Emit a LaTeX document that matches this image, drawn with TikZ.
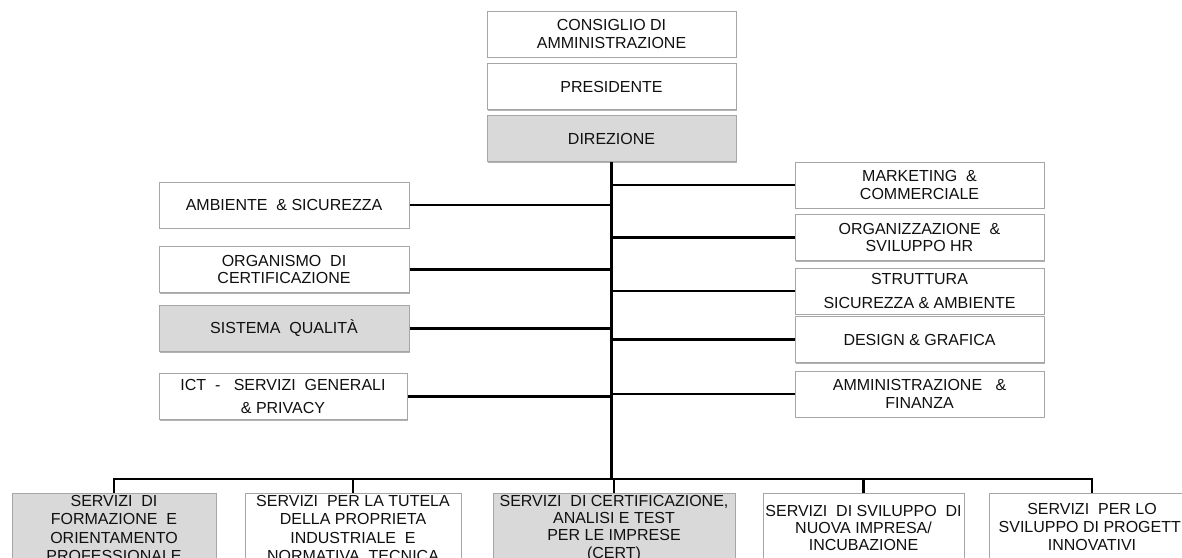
\documentclass[tikz,border=0pt]{standalone}
\usepackage{fontspec}
\setmainfont{Liberation Sans}
\usetikzlibrary{shadows}
\definecolor{boxgray}{HTML}{D9D9D9}
\definecolor{boxline}{HTML}{A6A6A6}
\definecolor{txt}{HTML}{101010}
\begin{document}
\begin{tikzpicture}[x=1pt,y=-1pt,
  frame/.style={draw=boxline, line width=1pt, fill=white, inner sep=0pt, text=txt,
    font=\fontsize{16}{17.7}\selectfont,
    drop shadow={shadow xshift=1.3pt, shadow yshift=-1.3pt, fill=black, opacity=0.3}},
  box/.style={frame, align=center},
  topbox/.style={box, minimum width=249pt, minimum height=46pt},
  sidebox/.style={box, minimum width=250pt, minimum height=46pt},
  botbox/.style={frame, anchor=north, text depth=80pt},
  grey/.style={fill=boxgray},
  link/.style={line width=2.2pt, draw=black},
  trunk/.style={line width=3.6pt, draw=black},
  bar/.style={line width=2.6pt, draw=black}]
\useasboundingbox (0,0) rectangle (1182,557);
\clip (0,0) rectangle (1182,557);
\fill[white] (0,0) rectangle (1182,557);

% top column
\node[topbox] (cda) at (611.5,34) {CONSIGLIO DI\\AMMINISTRAZIONE};
\node[topbox] (pres) at (611.5,86.5) {PRESIDENTE};
\node[topbox, grey] (dir) at (611.5,138.5) {DIREZIONE};

% left boxes
\node[sidebox] (amb) at (284,205) {AMBIENTE~ \& SICUREZZA};
\node[sidebox] (org) at (284,269.5) {ORGANISMO~ DI\\CERTIFICAZIONE};
\node[sidebox, grey] (sq) at (284,328.5) {SISTEMA~ QUALITÀ};
\node[box, minimum width=248pt, minimum height=46pt] (ict) at (283,396.5) {ICT~ -~~ SERVIZI~ GENERALI\\[6pt]\& PRIVACY};

% right boxes
\node[topbox] (mkt) at (919.5,185) {MARKETING~ \&\\COMMERCIALE};
\node[topbox] (orgz) at (919.5,237.5) {ORGANIZZAZIONE~ \&\\SVILUPPO HR};
\node[topbox] (str) at (919.5,291) {STRUTTURA\\[6pt]SICUREZZA \& AMBIENTE};
\node[topbox] (des) at (919.5,339.5) {DESIGN \& GRAFICA};
\node[topbox] (amm) at (919.5,394) {AMMINISTRAZIONE~~ \&\\FINANZA};

% bottom boxes
\node[botbox, grey, minimum width=204pt, text height=13pt,
  font=\fontsize{16}{18.5}\selectfont] (b1) at (114,492.5)
  {\begin{tabular}[t]{@{}c@{}}SERVIZI~ DI\\FORMAZIONE~ E\\ORIENTAMENTO\\PROFESSIONALE\end{tabular}};
\node[botbox, minimum width=216pt, text height=13pt,
  font=\fontsize{16}{18.5}\selectfont] (b2) at (353,492.5)
  {\begin{tabular}[t]{@{}c@{}}SERVIZI~ PER LA TUTELA\\DELLA PROPRIETA\\INDUSTRIALE~ E\\NORMATIVA~ TECNICA\end{tabular}};
\node[botbox, grey, minimum width=242pt, text height=13pt,
  font=\fontsize{16}{17.4}\selectfont] (b3) at (614,492.5)
  {\begin{tabular}[t]{@{}c@{}}SERVIZI~ DI CERTIFICAZIONE,\\ANALISI E TEST\\PER LE IMPRESE\\(CERT)\end{tabular}};
\node[botbox, minimum width=201pt, text height=23pt,
  font=\fontsize{16}{17.3}\selectfont] (b4) at (863.5,492.5)
  {\begin{tabular}[t]{@{}c@{}}SERVIZI~ DI SVILUPPO~ DI\\NUOVA IMPRESA/\\INCUBAZIONE\end{tabular}};
\node[botbox, minimum width=206pt, text height=21pt,
  font=\fontsize{16}{18}\selectfont] (b5) at (1092,492.5)
  {\begin{tabular}[t]{@{}c@{}}SERVIZI~ PER LO\\SVILUPPO DI PROGETTI\\INNOVATIVI\end{tabular}};

% connectors
\coordinate (j) at (612,479);
\draw[trunk] (dir.south) -- (dir.south |- j);
\foreach \n in {amb,org,sq,ict}
  \draw[link] (\n.east) -- (\n.east -| dir.south);
\foreach \n in {mkt,orgz,str,des,amm}
  \draw[link] (\n.west) -- (\n.west -| dir.south);
\draw[bar] (b1.north) |- (j) -| (b5.north);
\draw[bar] (b2.north) -- (b2.north |- j);
\draw[bar] (b3.north) -- (b3.north |- j);
\draw[bar] (b4.north) -- (b4.north |- j);
\end{tikzpicture}
\end{document}
